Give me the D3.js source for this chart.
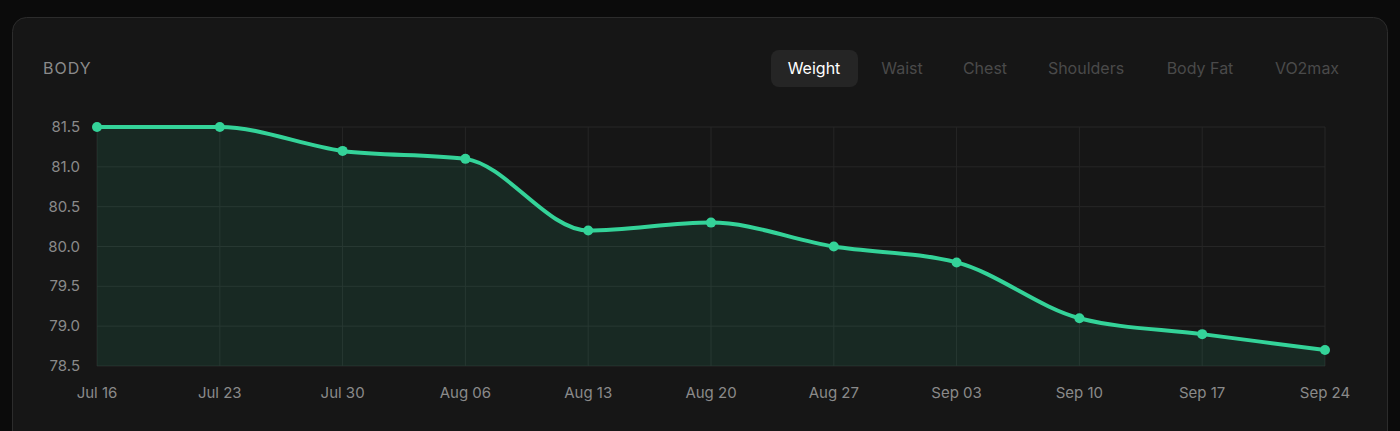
<!DOCTYPE html>
<html><head><meta charset="utf-8">
<script src="https://cdn.jsdelivr.net/npm/d3@7"></script>
<style>
html,body{margin:0;background:#0b0b0b;overflow:hidden}
text{font-family:Inter,"Noto Sans",sans-serif}
</style></head>
<body><div id="chart"></div>
<script>
const dates = ['Jul 16','Jul 23','Jul 30','Aug 06','Aug 13','Aug 20','Aug 27','Sep 03','Sep 10','Sep 17','Sep 24'];
const weight = [81.5, 81.5, 81.2, 81.1, 80.2, 80.3, 80.0, 79.8, 79.1, 78.9, 78.7];
const yTicks = [78.5, 79.0, 79.5, 80.0, 80.5, 81.0, 81.5];
const tabs = ['Weight','Waist','Chest','Shoulders','Body Fat','VO2max'];
const tabX = [814, 902, 985, 1086, 1200, 1307];

const W = 1400, H = 431;
const svg = d3.select('#chart').append('svg').attr('width', W).attr('height', H);

// card
svg.append('rect').attr('x', 12.5).attr('y', 17.5).attr('width', 1375).attr('height', 440)
  .attr('rx', 14).attr('fill', '#161616').attr('stroke', '#2c2c2c');

svg.append('text').attr('x', 43).attr('y', 74).attr('fill', '#8a8a8a')
  .attr('font-size', 16).attr('letter-spacing', 1).text('BODY');

// tabs
svg.append('rect').attr('x', 771).attr('y', 50).attr('width', 87).attr('height', 37)
  .attr('rx', 8).attr('fill', '#252525');
svg.append('g').selectAll('text').data(tabs).enter().append('text')
  .attr('x', (d, i) => tabX[i]).attr('y', 74).attr('text-anchor', 'middle')
  .attr('font-size', 16).attr('fill', (d, i) => i === 0 ? '#ffffff' : '#4a4a4a')
  .text(d => d);

const x = d3.scalePoint().domain(dates).range([97, 1325]);
const y = d3.scaleLinear().domain([78.5, 81.5]).range([366, 127]);

const g = svg.append('g');
// grid
g.selectAll('.hg').data(yTicks).enter().append('line')
  .attr('x1', 97).attr('x2', 1325).attr('y1', d => y(d)).attr('y2', d => y(d))
  .attr('stroke', '#262626');
g.selectAll('.vg').data(dates).enter().append('line')
  .attr('x1', d => x(d)).attr('x2', d => x(d)).attr('y1', 127).attr('y2', 366)
  .attr('stroke', '#262626');

const pts = dates.map((d, i) => [d, weight[i]]);
g.append('path').datum(pts)
  .attr('d', d3.area().x(d => x(d[0])).y0(366).y1(d => y(d[1])).curve(d3.curveMonotoneX))
  .attr('fill', '#34d399').attr('fill-opacity', 0.1);
g.append('path').datum(pts)
  .attr('d', d3.line().x(d => x(d[0])).y(d => y(d[1])).curve(d3.curveMonotoneX))
  .attr('fill', 'none').attr('stroke', '#34d399').attr('stroke-width', 4);
g.selectAll('circle').data(pts).enter().append('circle')
  .attr('cx', d => x(d[0])).attr('cy', d => y(d[1])).attr('r', 5).attr('fill', '#34d399');

// axes labels
g.selectAll('.yl').data(yTicks).enter().append('text')
  .attr('x', 80).attr('y', d => y(d) + 5).attr('text-anchor', 'end')
  .attr('font-size', 15).attr('fill', '#8a8a8a').text(d => d.toFixed(1));
g.selectAll('.xl').data(dates).enter().append('text')
  .attr('x', d => x(d)).attr('y', 398).attr('text-anchor', 'middle')
  .attr('font-size', 15).attr('fill', '#8a8a8a').text(d => d);
</script></body></html>
